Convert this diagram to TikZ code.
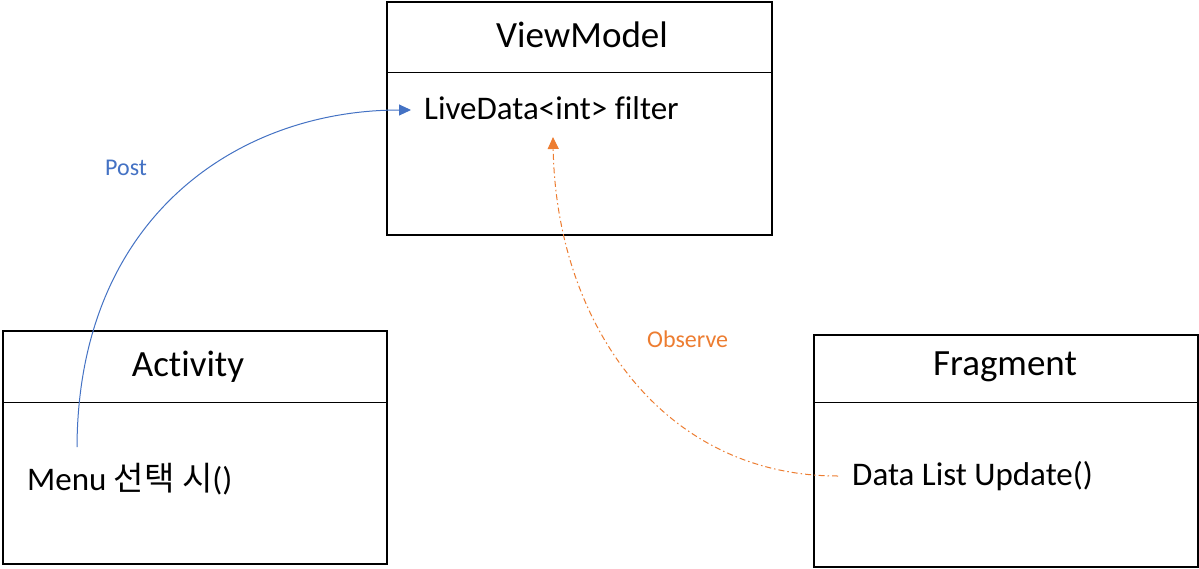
\documentclass[tikz,border=0pt]{standalone}
\usepackage{fontspec}
\setmainfont{Carlito}[Ligatures={NoCommon,NoContextual,NoRare}]
\newfontfamily\cjk{Noto Sans CJK KR}
\usetikzlibrary{arrows.meta}
\definecolor{postblue}{HTML}{4472C4}
\definecolor{obsorange}{HTML}{ED7D31}
\tikzset{
  classbox/.style={draw=black, line width=2pt, fill=none},
  divider/.style={draw=black, line width=1pt},
  titletext/.style={font=\fontsize{37}{40}\selectfont, anchor=base, inner sep=0pt},
  bodytext/.style={font=\fontsize{33}{36}\selectfont, anchor=base west, inner sep=0pt},
  labeltext/.style={font=\fontsize{24}{28}\selectfont, anchor=base west, inner sep=0pt},
  postarrow/.style={draw=postblue, line width=1pt, -{Triangle[length=12pt,width=11pt]}},
  obsarrow/.style={draw=obsorange, line width=1pt, dash pattern=on 6pt off 3pt on 1.5pt off 3pt, -{Triangle[length=12pt,width=11pt]}}
}
\begin{document}
\begin{tikzpicture}[x=1pt,y=-1pt]
\useasboundingbox (0,0) rectangle (1199,568);
\fill[white] (0,0) rectangle (1199,568);
% ViewModel
\node[classbox, minimum width=385pt, minimum height=233pt, anchor=north west, inner sep=0pt] (vm) at (386,1) {};
\draw[divider] (386,72) -- (771,72);
\node[titletext] (vmtitle) at (582,47) {ViewModel};
\node[bodytext] (live) at (424,119) {LiveData<int> filter};
% Activity
\node[classbox, minimum width=384pt, minimum height=233pt, anchor=north west, inner sep=0pt] (act) at (2,330) {};
\draw[divider] (2,402) -- (386,402);
\node[titletext] (acttitle) at (188,376) {Activity};
\node[bodytext] (menu) at (27,490) {Menu {\cjk 선택 시}()};
% Fragment
\node[classbox, minimum width=384pt, minimum height=232pt, anchor=north west, inner sep=0pt] (frag) at (813,334) {};
\draw[divider] (813,402) -- (1197,402);
\node[titletext] (fragtitle) at (1005,375) {Fragment};
\node[bodytext] (upd) at (852,485) {Data List Update()};
% labels
\node[labeltext, text=postblue] (post) at (105,175) {Post};
\node[labeltext, text=obsorange] (obs) at (647,347) {Observe};
% connectors
\coordinate (poststart) at (77,447);
\coordinate (postend) at (411,110);
\coordinate (obsstart) at (838,476);
\coordinate (obsend) at (553,137);
\draw[postarrow] (poststart) .. controls (78,215) and (240,110) .. (postend);
\draw[obsarrow] (obsstart) .. controls (660,476) and (556,320) .. (obsend);
\end{tikzpicture}
\end{document}
